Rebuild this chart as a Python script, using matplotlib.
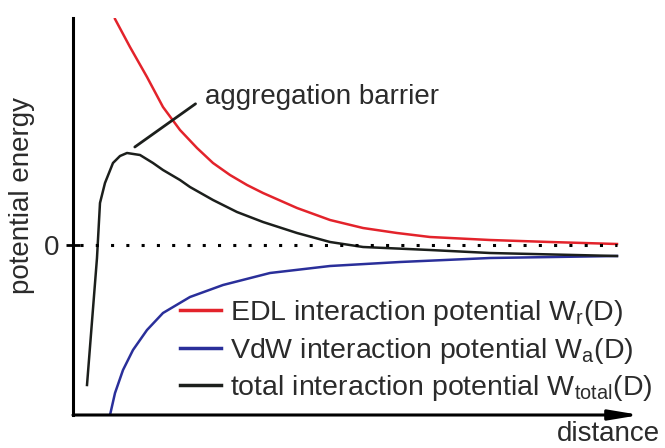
import matplotlib
matplotlib.use("Agg")
import matplotlib.pyplot as plt

plt.rcParams['font.family'] = ['Liberation Sans', 'DejaVu Sans']
plt.rcParams['mathtext.fontset'] = 'custom'
plt.rcParams['mathtext.rm'] = 'Liberation Sans'

# curves (distance, energy in arbitrary units)
red_x = [0.741, 1.005, 1.305, 1.587, 1.887, 2.187, 2.469, 2.769, 3.069, 3.351,
         3.951, 4.533, 5.115, 5.714, 6.296, 7.354, 8.413, 9.594]
red_y = [22.6, 19.8, 16.8, 13.8, 11.5, 9.7, 8.2, 7.0, 6.0, 5.2,
         3.7, 2.5, 1.7, 1.2, 0.8, 0.5, 0.3, 0.1]

blue_x = [0.653, 0.741, 0.882, 1.058, 1.305, 1.587, 2.063, 2.646, 3.474,
          4.533, 5.767, 7.354, 9.594]
blue_y = [-17.0, -14.8, -12.5, -10.5, -8.5, -6.8, -5.2, -4.0, -2.8,
          -2.1, -1.7, -1.3, -1.1]

black_x = [0.247, 0.423, 0.476, 0.564, 0.705, 0.829, 0.952, 1.182, 1.411, 1.587,
           1.887, 2.063, 2.469, 2.892, 3.351, 3.951, 4.533, 5.115, 6.296, 7.354, 9.594]
black_y = [-14.0, -1.3, 4.2, 6.2, 8.2, 8.9, 9.2, 9.0, 8.2, 7.5,
           6.5, 5.8, 4.5, 3.3, 2.3, 1.2, 0.3, -0.2, -0.5, -0.8, -1.1]

zero_x = [0.12, 9.6]
zero_y = [0, 0]

labels = [r'EDL interaction potential W$_\mathregular{r}$(D)',
          r'VdW interaction potential W$_\mathregular{a}$(D)',
          r'total interaction potential W$_\mathregular{total}$(D)']
colors = ['#e3232b', '#2a2f9a', '#1c1f1c']
txt = '#2b2b2b'

fig = plt.figure(figsize=(6.65, 4.48), dpi=100)
ax = fig.add_axes([73/665, 33/448, 567/665, 397/448])
ax.set_xlim(0, 10)
ax.set_ylim(-17, 22.7)

#the three curves
ax.plot(red_x, red_y, color=colors[0], lw=1.8, label=labels[0], solid_joinstyle='round')
ax.plot(blue_x, blue_y, color=colors[1], lw=1.8, label=labels[1], solid_joinstyle='round')
ax.plot(black_x, black_y, color=colors[2], lw=1.8, label=labels[2], solid_joinstyle='round')
ax.plot(zero_x, zero_y, color='k', lw=2.2, linestyle=(0, (1, 4)))

#axes
for s in ['top', 'right', 'bottom']:
    ax.spines[s].set_visible(False)
ax.spines['left'].set_linewidth(2.2)
ax.annotate('', xy=(1.0, 0), xytext=(0, 0), xycoords='axes fraction',
            arrowprops=dict(arrowstyle='-|>,head_length=0.9,head_width=0.15',
                            lw=2.2, color='k', shrinkA=0, shrinkB=0, mutation_scale=20))
ax.set_xticks([])
ax.set_yticks([0])
ax.set_yticklabels(['0'], fontsize=20, color=txt)
ax.tick_params(axis='y', direction='inout', length=10, width=2, pad=5)

#annotation
ax.annotate('aggregation barrier', xy=(1.09, 9.8), xytext=(2.33, 14.8),
            fontsize=20, color=txt, va='center', ha='left',
            arrowprops=dict(arrowstyle='-', lw=2, color='#1c1f1c',
                            relpos=(0, 0.5), shrinkA=6, shrinkB=0))

fig.text(22/665, 1 - 195/448, 'potential energy', rotation=90, fontsize=20,
         color=txt, ha='center', va='center')
fig.text(608/665, 1 - 434/448, 'distance', fontsize=20, color=txt,
         ha='center', va='center')

leg = ax.legend(loc='upper left', bbox_to_anchor=((180 - 73)/567, (415 - 298)/397),
                frameon=False, fontsize=20.5, handlelength=1.45, handletextpad=0.3,
                labelspacing=0.27, borderpad=0, borderaxespad=0)
for t in leg.get_texts():
    t.set_color(txt)
for h in leg.get_lines():
    h.set_linewidth(2.5)

fig.savefig('out.png', dpi=100)
